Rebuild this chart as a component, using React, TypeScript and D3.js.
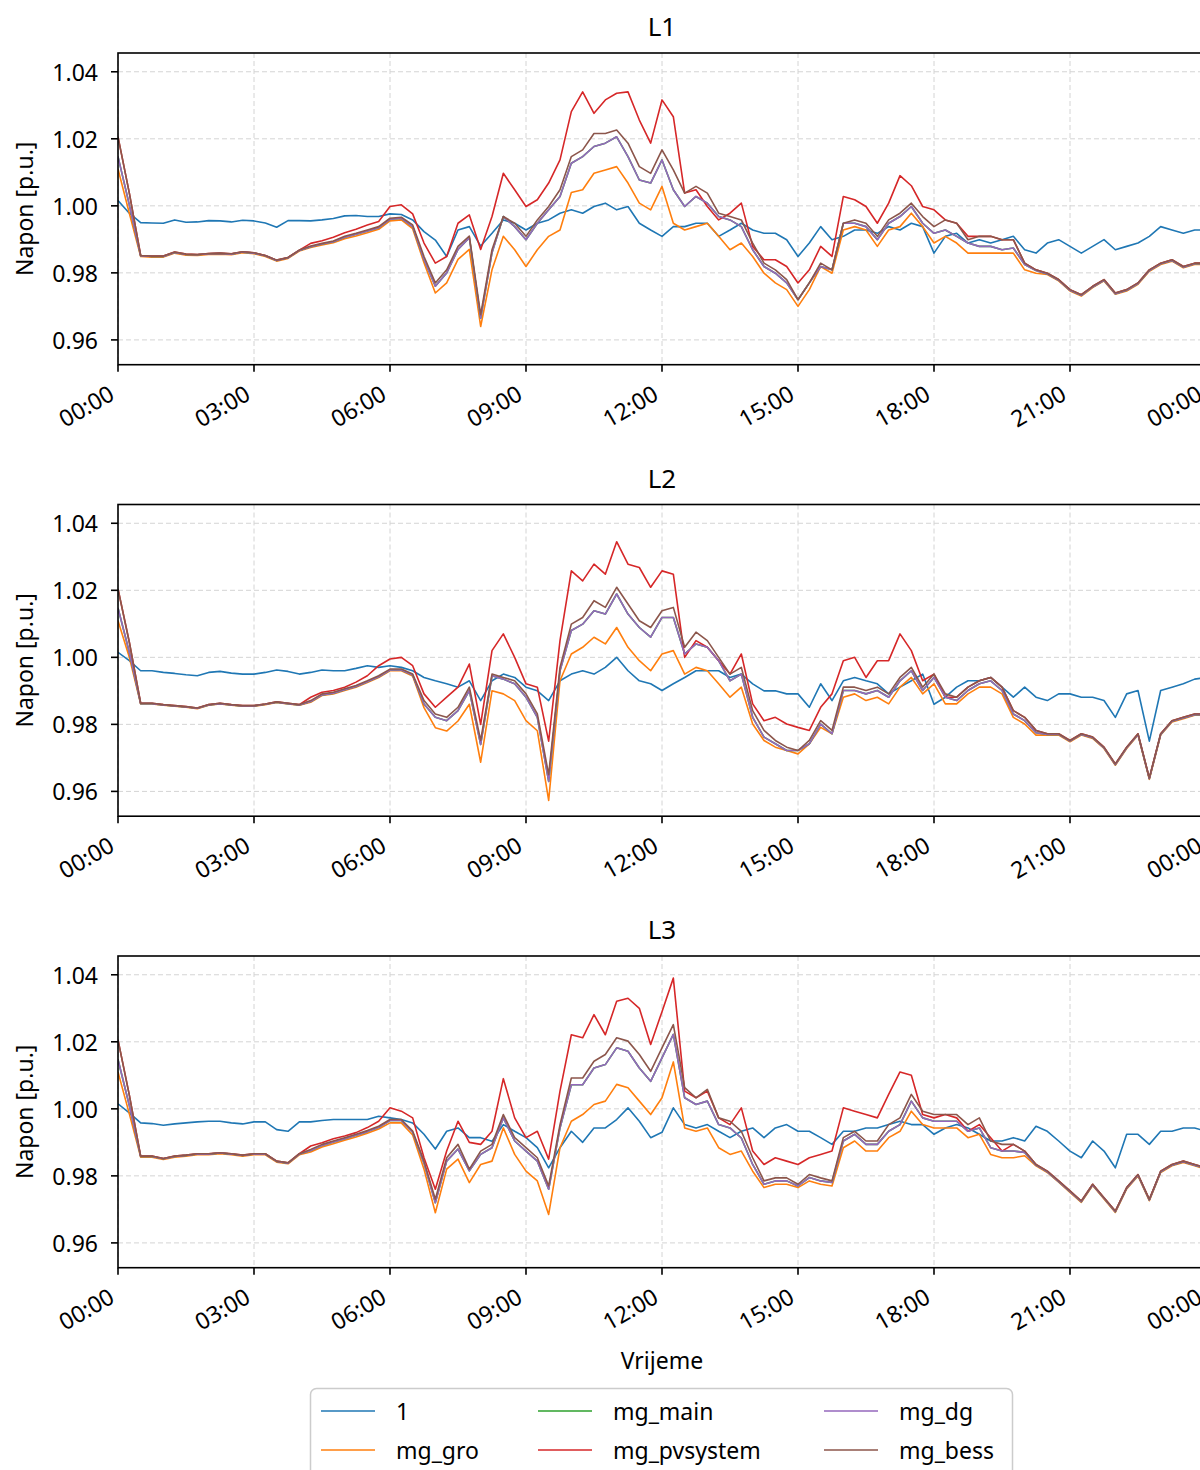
import React from "react";
import * as d3 from "d3";

const W = 1200;
const H = 1470;
const PLOT_LEFT = 118;
const PLOT_RIGHT = 1206;
const PANEL_TOPS = [53, 504.5, 956];
const PANEL_H = 311.7;
const FONT = "'Noto Sans', 'DejaVu Sans', sans-serif";

const seriesNames = ["1", "mg_gro", "mg_main", "mg_pvsystem", "mg_dg", "mg_bess"];
const seriesColors = ["#1f77b4", "#ff7f0e", "#2ca02c", "#d62728", "#9467bd", "#8c564b"];
const panelTitles = ["L1", "L2", "L3"];
const yTicks = [0.96, 0.98, 1.0, 1.02, 1.04];
const yDomain = [0.9526, 1.0456];
const stepMinutes = 15;

// ---------------- L1 ----------------
const l1One = [1.0016, 0.9978, 0.9950, 0.9949, 0.9948, 0.9958, 0.9951, 0.9952, 0.9956, 0.9955, 0.9952, 0.9957, 0.9955, 0.9949, 0.9936, 0.9956, 0.9956,
  0.9955, 0.9958, 0.9962, 0.9970, 0.9971, 0.9968, 0.9968, 0.9976, 0.9974, 0.9958, 0.9923, 0.9898, 0.9849, 0.9928, 0.9938,
  0.9880, 0.9918, 0.9958, 0.9948, 0.9928, 0.9948, 0.9958, 0.9978, 0.9988, 0.9978, 0.9998, 1.0008, 0.9988, 0.9998, 0.9948, 0.9928,
  0.9909, 0.9938, 0.9938, 0.9948, 0.9948, 0.9909, 0.9928, 0.9948, 0.9928, 0.9918, 0.9918, 0.9899, 0.9849, 0.9889, 0.9938, 0.9899,
  0.9909, 0.9928, 0.9928, 0.9918, 0.9938, 0.9928, 0.9948, 0.9938, 0.9859, 0.9909, 0.9918, 0.9889, 0.9899, 0.9889, 0.9899, 0.9909,
  0.9869, 0.9859, 0.9889, 0.9899, 0.9879, 0.9859, 0.9879, 0.9899, 0.9869, 0.9879, 0.9889, 0.9909, 0.9938, 0.9928, 0.9918, 0.9928, 0.9928];
const l1Gro = [1.0110, 0.9978, 0.9849, 0.9847, 0.9847, 0.9859, 0.9853, 0.9852, 0.9855, 0.9856, 0.9854, 0.9860, 0.9857, 0.9849, 0.9835, 0.9843, 0.9865,
  0.9876, 0.9883, 0.9890, 0.9902, 0.9910, 0.9920, 0.9930, 0.9955, 0.9958, 0.9932, 0.9830, 0.9740, 0.9770, 0.9840, 0.9870,
  0.9640, 0.9809, 0.9909, 0.9869, 0.9819, 0.9869, 0.9909, 0.9928, 1.0040, 1.0048, 1.0097, 1.0107, 1.0117, 1.0068, 1.0008, 0.9988,
  1.0058, 0.9948, 0.9928, 0.9938, 0.9948, 0.9909, 0.9869, 0.9889, 0.9849, 0.9799, 0.9770, 0.9750, 0.9700, 0.9750, 0.9819, 0.9799,
  0.9928, 0.9938, 0.9928, 0.9879, 0.9928, 0.9938, 0.9978, 0.9938, 0.9889, 0.9909, 0.9889, 0.9859, 0.9859, 0.9859, 0.9859, 0.9859,
  0.9809, 0.9799, 0.9795, 0.9776, 0.9746, 0.9731, 0.9756, 0.9776, 0.9736, 0.9746, 0.9766, 0.9805, 0.9825, 0.9835, 0.9815, 0.9825, 0.9825];
const l1Pv = [1.0206, 1.0038, 0.9852, 0.9850, 0.9850, 0.9862, 0.9856, 0.9855, 0.9858, 0.9859, 0.9857, 0.9863, 0.9860, 0.9852, 0.9838, 0.9846, 0.9868,
  0.9888, 0.9896, 0.9906, 0.9920, 0.9930, 0.9943, 0.9953, 0.9998, 1.0003, 0.9976, 0.9889, 0.9829, 0.9849, 0.9948, 0.9973,
  0.9870, 0.9968, 1.0097, 1.0048, 0.9998, 1.0018, 1.0068, 1.0137, 1.0281, 1.0340, 1.0276, 1.0316, 1.0336, 1.0340, 1.0256, 1.0187,
  1.0316, 1.0266, 1.0038, 1.0048, 0.9998, 0.9958, 0.9978, 1.0008, 0.9879, 0.9839, 0.9839, 0.9819, 0.9770, 0.9809, 0.9879, 0.9849,
  1.0028, 1.0018, 0.9998, 0.9948, 1.0008, 1.0090, 1.0060, 0.9998, 0.9988, 0.9958, 0.9948, 0.9909, 0.9909, 0.9909, 0.9899, 0.9899,
  0.9829, 0.9809, 0.9799, 0.9780, 0.9750, 0.9735, 0.9760, 0.9780, 0.9740, 0.9750, 0.9770, 0.9809, 0.9829, 0.9839, 0.9819, 0.9829, 0.9829];
const l1Dg = [1.0147, 1.0003, 0.9851, 0.9849, 0.9849, 0.9861, 0.9855, 0.9854, 0.9857, 0.9858, 0.9856, 0.9862, 0.9859, 0.9851, 0.9837, 0.9845, 0.9867,
  0.9878, 0.9886, 0.9893, 0.9906, 0.9915, 0.9925, 0.9935, 0.9960, 0.9963, 0.9938, 0.9840, 0.9760, 0.9800, 0.9870, 0.9905,
  0.9665, 0.9860, 0.9968, 0.9938, 0.9899, 0.9948, 0.9988, 1.0028, 1.0127, 1.0147, 1.0177, 1.0187, 1.0206, 1.0147, 1.0077, 1.0068,
  1.0137, 1.0048, 0.9998, 1.0028, 1.0008, 0.9968, 0.9958, 0.9938, 0.9869, 0.9819, 0.9799, 0.9770, 0.9720, 0.9770, 0.9819, 0.9809,
  0.9948, 0.9948, 0.9938, 0.9899, 0.9948, 0.9968, 0.9998, 0.9948, 0.9918, 0.9928, 0.9909, 0.9889, 0.9879, 0.9879, 0.9869, 0.9874,
  0.9825, 0.9807, 0.9797, 0.9778, 0.9748, 0.9733, 0.9758, 0.9778, 0.9738, 0.9748, 0.9768, 0.9807, 0.9827, 0.9837, 0.9817, 0.9827, 0.9827];
const l1Bess = [1.0206, 1.0038, 0.9852, 0.9850, 0.9850, 0.9862, 0.9856, 0.9855, 0.9858, 0.9859, 0.9857, 0.9863, 0.9860, 0.9852, 0.9838, 0.9846, 0.9868,
  0.9880, 0.9888, 0.9895, 0.9909, 0.9918, 0.9928, 0.9938, 0.9963, 0.9966, 0.9943, 0.9849, 0.9770, 0.9809, 0.9879, 0.9910,
  0.9675, 0.9869, 0.9968, 0.9948, 0.9909, 0.9958, 0.9998, 1.0048, 1.0147, 1.0167, 1.0216, 1.0216, 1.0226, 1.0187, 1.0117, 1.0097,
  1.0167, 1.0107, 1.0038, 1.0058, 1.0038, 0.9978, 0.9968, 0.9958, 0.9889, 0.9829, 0.9809, 0.9780, 0.9720, 0.9770, 0.9829, 0.9809,
  0.9948, 0.9958, 0.9948, 0.9909, 0.9958, 0.9978, 1.0008, 0.9968, 0.9938, 0.9958, 0.9948, 0.9899, 0.9909, 0.9909, 0.9899, 0.9899,
  0.9829, 0.9809, 0.9799, 0.9780, 0.9750, 0.9735, 0.9760, 0.9780, 0.9740, 0.9750, 0.9770, 0.9809, 0.9829, 0.9839, 0.9819, 0.9829, 0.9829];
// mg_main is not visible in the picture: it lies exactly under mg_dg
const l1Main = l1Dg;

// ---------------- L2 ----------------
const l2One = [1.0015, 0.9990, 0.9960, 0.9960, 0.9955, 0.9952, 0.9948, 0.9945, 0.9955, 0.9958, 0.9953, 0.9950, 0.9950, 0.9955, 0.9962, 0.9958, 0.9950,
  0.9955, 0.9962, 0.9960, 0.9960, 0.9967, 0.9975, 0.9970, 0.9975, 0.9970, 0.9960, 0.9940, 0.9930, 0.9921, 0.9911, 0.9930,
  0.9871, 0.9930, 0.9950, 0.9940, 0.9911, 0.9900, 0.9871, 0.9930, 0.9950, 0.9960, 0.9950, 0.9970, 1.0000, 0.9960, 0.9930, 0.9921,
  0.9901, 0.9921, 0.9940, 0.9960, 0.9960, 0.9960, 0.9940, 0.9950, 0.9921, 0.9900, 0.9900, 0.9891, 0.9891, 0.9851, 0.9921, 0.9871,
  0.9930, 0.9940, 0.9930, 0.9921, 0.9891, 0.9911, 0.9930, 0.9950, 0.9860, 0.9881, 0.9911, 0.9930, 0.9930, 0.9940, 0.9911, 0.9881,
  0.9911, 0.9881, 0.9871, 0.9891, 0.9891, 0.9881, 0.9881, 0.9871, 0.9821, 0.9891, 0.9901, 0.9750, 0.9901, 0.9911, 0.9921, 0.9935, 0.9940];
const l2Gro = [1.0109, 1.0000, 0.9861, 0.9861, 0.9857, 0.9854, 0.9851, 0.9847, 0.9857, 0.9861, 0.9857, 0.9854, 0.9854, 0.9859, 0.9865, 0.9861, 0.9857,
  0.9866, 0.9886, 0.9891, 0.9901, 0.9911, 0.9925, 0.9940, 0.9960, 0.9960, 0.9944, 0.9850, 0.9790, 0.9780, 0.9810, 0.9860,
  0.9687, 0.9900, 0.9891, 0.9871, 0.9811, 0.9781, 0.9573, 0.9930, 1.0010, 1.0030, 1.0060, 1.0040, 1.0089, 1.0030, 0.9990, 0.9960,
  1.0010, 1.0020, 0.9950, 0.9970, 0.9960, 0.9921, 0.9881, 0.9911, 0.9801, 0.9752, 0.9732, 0.9722, 0.9712, 0.9742, 0.9791, 0.9772,
  0.9881, 0.9891, 0.9871, 0.9881, 0.9861, 0.9911, 0.9940, 0.9891, 0.9921, 0.9861, 0.9861, 0.9891, 0.9911, 0.9911, 0.9891, 0.9821,
  0.9801, 0.9768, 0.9768, 0.9768, 0.9748, 0.9768, 0.9758, 0.9728, 0.9678, 0.9728, 0.9768, 0.9636, 0.9768, 0.9807, 0.9817, 0.9827, 0.9827];
const l2Pv = [1.0204, 1.0045, 0.9863, 0.9863, 0.9859, 0.9856, 0.9853, 0.9849, 0.9859, 0.9863, 0.9859, 0.9856, 0.9856, 0.9861, 0.9867, 0.9863, 0.9859,
  0.9881, 0.9896, 0.9901, 0.9911, 0.9926, 0.9945, 0.9975, 0.9995, 1.0000, 0.9975, 0.9891, 0.9851, 0.9881, 0.9911, 0.9980,
  0.9800, 1.0020, 1.0070, 1.0000, 0.9921, 0.9911, 0.9750, 1.0050, 1.0258, 1.0228, 1.0278, 1.0248, 1.0345, 1.0278, 1.0268, 1.0209,
  1.0258, 1.0248, 1.0000, 1.0050, 1.0030, 0.9990, 0.9950, 1.0010, 0.9861, 0.9811, 0.9821, 0.9801, 0.9791, 0.9782, 0.9851, 0.9891,
  0.9990, 1.0000, 0.9940, 0.9990, 0.9990, 1.0070, 1.0020, 0.9930, 0.9950, 0.9881, 0.9881, 0.9911, 0.9930, 0.9940, 0.9911, 0.9841,
  0.9821, 0.9782, 0.9772, 0.9772, 0.9752, 0.9772, 0.9762, 0.9732, 0.9682, 0.9732, 0.9772, 0.9640, 0.9772, 0.9811, 0.9821, 0.9831, 0.9831];
const l2Dg = [1.0147, 1.0015, 0.9862, 0.9862, 0.9858, 0.9855, 0.9852, 0.9848, 0.9858, 0.9862, 0.9858, 0.9855, 0.9855, 0.9860, 0.9866, 0.9862, 0.9858,
  0.9868, 0.9888, 0.9893, 0.9903, 0.9913, 0.9927, 0.9942, 0.9962, 0.9962, 0.9947, 0.9861, 0.9821, 0.9811, 0.9841, 0.9901,
  0.9740, 0.9945, 0.9935, 0.9921, 0.9881, 0.9821, 0.9630, 0.9960, 1.0080, 1.0099, 1.0139, 1.0129, 1.0189, 1.0129, 1.0089, 1.0060,
  1.0119, 1.0119, 1.0010, 1.0040, 1.0030, 0.9990, 0.9930, 0.9950, 0.9821, 0.9762, 0.9742, 0.9722, 0.9722, 0.9742, 0.9801, 0.9772,
  0.9901, 0.9901, 0.9891, 0.9901, 0.9881, 0.9930, 0.9960, 0.9901, 0.9940, 0.9881, 0.9871, 0.9901, 0.9921, 0.9930, 0.9901, 0.9831,
  0.9811, 0.9775, 0.9770, 0.9770, 0.9750, 0.9770, 0.9760, 0.9730, 0.9680, 0.9730, 0.9770, 0.9638, 0.9770, 0.9809, 0.9819, 0.9829, 0.9829];
const l2Bess = [1.0204, 1.0045, 0.9863, 0.9863, 0.9859, 0.9856, 0.9853, 0.9849, 0.9859, 0.9863, 0.9859, 0.9856, 0.9856, 0.9861, 0.9867, 0.9863, 0.9859,
  0.9871, 0.9891, 0.9896, 0.9906, 0.9916, 0.9930, 0.9945, 0.9965, 0.9965, 0.9950, 0.9871, 0.9831, 0.9821, 0.9851, 0.9911,
  0.9752, 0.9950, 0.9940, 0.9930, 0.9891, 0.9831, 0.9650, 0.9970, 1.0099, 1.0119, 1.0169, 1.0149, 1.0209, 1.0159, 1.0109, 1.0089,
  1.0139, 1.0149, 1.0030, 1.0075, 1.0050, 1.0000, 0.9950, 0.9970, 0.9841, 0.9782, 0.9752, 0.9732, 0.9722, 0.9752, 0.9811, 0.9782,
  0.9911, 0.9911, 0.9901, 0.9911, 0.9891, 0.9940, 0.9970, 0.9911, 0.9950, 0.9891, 0.9881, 0.9911, 0.9930, 0.9940, 0.9911, 0.9841,
  0.9821, 0.9782, 0.9772, 0.9772, 0.9752, 0.9772, 0.9762, 0.9732, 0.9682, 0.9732, 0.9772, 0.9640, 0.9772, 0.9811, 0.9821, 0.9831, 0.9831];
const l2Main = l2Dg;

// ---------------- L3 ----------------
const l3One = [1.0015, 0.9988, 0.9958, 0.9956, 0.9951, 0.9955, 0.9958, 0.9961, 0.9963, 0.9963, 0.9958, 0.9955, 0.9961, 0.9961, 0.9938, 0.9933, 0.9961,
  0.9961, 0.9965, 0.9968, 0.9968, 0.9968, 0.9968, 0.9978, 0.9973, 0.9968, 0.9958, 0.9924, 0.9880, 0.9933, 0.9943, 0.9914,
  0.9914, 0.9903, 0.9953, 0.9933, 0.9914, 0.9884, 0.9824, 0.9884, 0.9933, 0.9900, 0.9943, 0.9943, 0.9968, 1.0003, 0.9963, 0.9914,
  0.9930, 1.0003, 0.9953, 0.9943, 0.9953, 0.9933, 0.9914, 0.9933, 0.9943, 0.9914, 0.9943, 0.9953, 0.9933, 0.9933, 0.9914, 0.9894,
  0.9933, 0.9933, 0.9943, 0.9943, 0.9953, 0.9963, 0.9953, 0.9953, 0.9924, 0.9943, 0.9953, 0.9943, 0.9924, 0.9904, 0.9904, 0.9914,
  0.9904, 0.9948, 0.9933, 0.9904, 0.9874, 0.9854, 0.9904, 0.9874, 0.9824, 0.9924, 0.9924, 0.9894, 0.9933, 0.9933, 0.9943, 0.9943, 0.9933];
const l3Gro = [1.0110, 0.9985, 0.9856, 0.9856, 0.9849, 0.9856, 0.9859, 0.9863, 0.9863, 0.9866, 0.9863, 0.9859, 0.9863, 0.9863, 0.9841, 0.9836, 0.9863,
  0.9871, 0.9886, 0.9896, 0.9906, 0.9916, 0.9927, 0.9940, 0.9958, 0.9958, 0.9922, 0.9820, 0.9690, 0.9820, 0.9850, 0.9780,
  0.9834, 0.9844, 0.9943, 0.9864, 0.9814, 0.9785, 0.9685, 0.9884, 0.9963, 0.9983, 1.0013, 1.0023, 1.0073, 1.0063, 1.0023, 0.9983,
  1.0033, 1.0140, 0.9943, 0.9933, 0.9943, 0.9884, 0.9864, 0.9874, 0.9814, 0.9765, 0.9775, 0.9775, 0.9765, 0.9785, 0.9775, 0.9770,
  0.9884, 0.9904, 0.9874, 0.9874, 0.9914, 0.9933, 0.9993, 0.9953, 0.9943, 0.9943, 0.9943, 0.9914, 0.9924, 0.9864, 0.9854, 0.9854,
  0.9860, 0.9830, 0.9810, 0.9781, 0.9751, 0.9721, 0.9771, 0.9731, 0.9691, 0.9761, 0.9800, 0.9726, 0.9810, 0.9830, 0.9840, 0.9830, 0.9820];
const l3Pv = [1.0206, 1.0041, 0.9859, 0.9859, 0.9852, 0.9859, 0.9862, 0.9866, 0.9866, 0.9869, 0.9866, 0.9862, 0.9866, 0.9866, 0.9844, 0.9839, 0.9866,
  0.9889, 0.9899, 0.9911, 0.9919, 0.9929, 0.9944, 0.9963, 1.0003, 0.9993, 0.9973, 0.9854, 0.9760, 0.9874, 0.9963, 0.9900,
  0.9894, 0.9933, 1.0090, 0.9973, 0.9914, 0.9933, 0.9850, 1.0053, 1.0221, 1.0212, 1.0281, 1.0221, 1.0321, 1.0330, 1.0300, 1.0192,
  1.0290, 1.0390, 1.0053, 1.0033, 1.0053, 0.9973, 0.9953, 1.0003, 0.9874, 0.9834, 0.9854, 0.9844, 0.9834, 0.9854, 0.9864, 0.9874,
  1.0003, 0.9993, 0.9983, 0.9973, 1.0043, 1.0110, 1.0100, 0.9983, 0.9973, 0.9983, 0.9973, 0.9933, 0.9953, 0.9914, 0.9874, 0.9894,
  0.9874, 0.9834, 0.9814, 0.9785, 0.9755, 0.9725, 0.9775, 0.9735, 0.9695, 0.9765, 0.9804, 0.9730, 0.9814, 0.9834, 0.9844, 0.9834, 0.9824];
const l3Dg = [1.0147, 1.0010, 0.9858, 0.9858, 0.9851, 0.9858, 0.9861, 0.9865, 0.9865, 0.9868, 0.9865, 0.9861, 0.9865, 0.9865, 0.9843, 0.9838, 0.9865,
  0.9876, 0.9891, 0.9901, 0.9911, 0.9921, 0.9932, 0.9945, 0.9965, 0.9965, 0.9930, 0.9838, 0.9720, 0.9844, 0.9880, 0.9815,
  0.9864, 0.9884, 0.9973, 0.9904, 0.9874, 0.9844, 0.9760, 0.9943, 1.0072, 1.0072, 1.0122, 1.0132, 1.0182, 1.0172, 1.0122, 1.0082,
  1.0152, 1.0222, 1.0033, 1.0013, 1.0023, 0.9953, 0.9943, 0.9913, 0.9834, 0.9775, 0.9785, 0.9785, 0.9770, 0.9795, 0.9785, 0.9780,
  0.9904, 0.9924, 0.9894, 0.9894, 0.9933, 0.9953, 1.0023, 0.9973, 0.9963, 0.9963, 0.9963, 0.9933, 0.9943, 0.9884, 0.9874, 0.9874,
  0.9870, 0.9832, 0.9812, 0.9783, 0.9753, 0.9723, 0.9773, 0.9733, 0.9693, 0.9763, 0.9802, 0.9728, 0.9812, 0.9832, 0.9842, 0.9832, 0.9822];
const l3Bess = [1.0206, 1.0041, 0.9859, 0.9859, 0.9852, 0.9859, 0.9862, 0.9866, 0.9866, 0.9869, 0.9866, 0.9862, 0.9866, 0.9866, 0.9844, 0.9839, 0.9866,
  0.9879, 0.9894, 0.9904, 0.9914, 0.9924, 0.9935, 0.9948, 0.9968, 0.9968, 0.9934, 0.9844, 0.9730, 0.9854, 0.9894, 0.9820,
  0.9874, 0.9894, 0.9983, 0.9914, 0.9884, 0.9854, 0.9770, 0.9953, 1.0092, 1.0092, 1.0142, 1.0162, 1.0212, 1.0202, 1.0162, 1.0112,
  1.0182, 1.0251, 1.0063, 1.0033, 1.0058, 0.9973, 0.9963, 0.9933, 0.9854, 0.9785, 0.9794, 0.9794, 0.9775, 0.9804, 0.9794, 0.9785,
  0.9914, 0.9933, 0.9904, 0.9904, 0.9953, 0.9973, 1.0043, 0.9993, 0.9983, 0.9983, 0.9983, 0.9953, 0.9973, 0.9904, 0.9894, 0.9894,
  0.9874, 0.9834, 0.9814, 0.9785, 0.9755, 0.9725, 0.9775, 0.9735, 0.9695, 0.9765, 0.9804, 0.9730, 0.9814, 0.9834, 0.9844, 0.9834, 0.9824];
const l3Main = l3Dg;

const panelSeries = [
  [l1One, l1Gro, l1Main, l1Pv, l1Dg, l1Bess],
  [l2One, l2Gro, l2Main, l2Pv, l2Dg, l2Bess],
  [l3One, l3Gro, l3Main, l3Pv, l3Dg, l3Bess],
];

const day0 = new Date(2024, 0, 1, 0, 0);
const day1 = new Date(2024, 0, 2, 0, 0);
const times = l1One.map((_, i) => d3.timeMinute.offset(day0, i * stepMinutes));

const x = d3.scaleTime().domain([day0, day1]).range([PLOT_LEFT, PLOT_RIGHT]);
const xTicks = x.ticks(d3.timeHour.every(3));
const fmt = d3.timeFormat("%H:%M");

function Panel({ idx }: { idx: number }) {
  const top = PANEL_TOPS[idx];
  const bottom = top + PANEL_H;
  const y = d3.scaleLinear().domain(yDomain).range([bottom, top]);
  const line = d3
    .line<number>()
    .x((_, i) => x(times[i]))
    .y((d) => y(d));
  const clipId = `clip-${idx}`;
  return (
    <g>
      <defs>
        <clipPath id={clipId}>
          <rect x={PLOT_LEFT} y={top} width={PLOT_RIGHT - PLOT_LEFT} height={PANEL_H} />
        </clipPath>
      </defs>
      {/* grid */}
      {yTicks.map((t) => (
        <line key={"gy" + t} x1={PLOT_LEFT} x2={PLOT_RIGHT} y1={y(t)} y2={y(t)} stroke="#d4d4d4" strokeWidth={1} strokeDasharray="5,3" />
      ))}
      {xTicks.map((t, i) => (
        <line key={"gx" + i} x1={x(t)} x2={x(t)} y1={top} y2={bottom} stroke="#d4d4d4" strokeWidth={1} strokeDasharray="5,3" />
      ))}
      {/* lines */}
      <g clipPath={`url(#${clipId})`}>
        {panelSeries[idx].map((s, k) => (
          <path key={k} d={line(s) || ""} fill="none" stroke={seriesColors[k]} strokeWidth={1.6} strokeLinejoin="round" />
        ))}
      </g>
      {/* frame */}
      <rect x={PLOT_LEFT} y={top} width={PLOT_RIGHT - PLOT_LEFT} height={PANEL_H} fill="none" stroke="#000" strokeWidth={1.6} />
      {/* y ticks */}
      {yTicks.map((t) => (
        <g key={"yt" + t}>
          <line x1={PLOT_LEFT - 7} x2={PLOT_LEFT} y1={y(t)} y2={y(t)} stroke="#000" strokeWidth={1.6} />
          <text x={98} y={y(t)} textAnchor="end" dominantBaseline="central" fontSize={23} fontFamily={FONT} fill="#000">
            {t.toFixed(2)}
          </text>
        </g>
      ))}
      {/* x ticks */}
      {xTicks.map((t, i) => (
        <g key={"xt" + i}>
          <line x1={x(t)} x2={x(t)} y1={bottom} y2={bottom + 7} stroke="#000" strokeWidth={1.6} />
          <text
            transform={`translate(${x(t) - 2},${bottom + 34}) rotate(-30)`}
            textAnchor="end"
            fontSize={23}
            fontFamily={FONT}
            fill="#000"
          >
            {fmt(t)}
          </text>
        </g>
      ))}
      {/* y label */}
      <text
        transform={`translate(33,${(top + bottom) / 2}) rotate(-90)`}
        textAnchor="middle"
        fontSize={23}
        fontFamily={FONT}
        fill="#000"
      >
        Napon [p.u.]
      </text>
      {/* title */}
      <text x={(PLOT_LEFT + PLOT_RIGHT) / 2} y={top - 17} textAnchor="middle" fontSize={26} fontFamily={FONT} fill="#000">
        {panelTitles[idx]}
      </text>
    </g>
  );
}

const legendCols = [321, 538, 824];
const legendRows = [1411, 1450];

export default function App() {
  return (
    <svg
      width={W}
      height={H}
      viewBox={`0 0 ${W} ${H}`}
      style={{ position: "absolute", left: 0, top: 0, background: "#fff" }}
    >
      <rect x={0} y={0} width={W} height={H} fill="#fff" />
      {panelTitles.map((_, i) => (
        <Panel key={i} idx={i} />
      ))}
      <text x={(PLOT_LEFT + PLOT_RIGHT) / 2} y={1369} textAnchor="middle" fontSize={23} fontFamily={FONT} fill="#000">
        Vrijeme
      </text>
      {/* legend */}
      <rect x={310.5} y={1388.5} width={702} height={110} rx={6} fill="#fff" fillOpacity={0.8} stroke="#cccccc" strokeWidth={1.5} />
      {seriesNames.map((name, k) => {
        const col = Math.floor(k / 2);
        const row = k % 2;
        const lx = legendCols[col];
        const ly = legendRows[row];
        return (
          <g key={name}>
            <line x1={lx} x2={lx + 54} y1={ly} y2={ly} stroke={seriesColors[k]} strokeWidth={1.6} />
            <text x={lx + 75} y={ly} dominantBaseline="central" fontSize={23} fontFamily={FONT} fill="#000">
              {name}
            </text>
          </g>
        );
      })}
    </svg>
  );
}
